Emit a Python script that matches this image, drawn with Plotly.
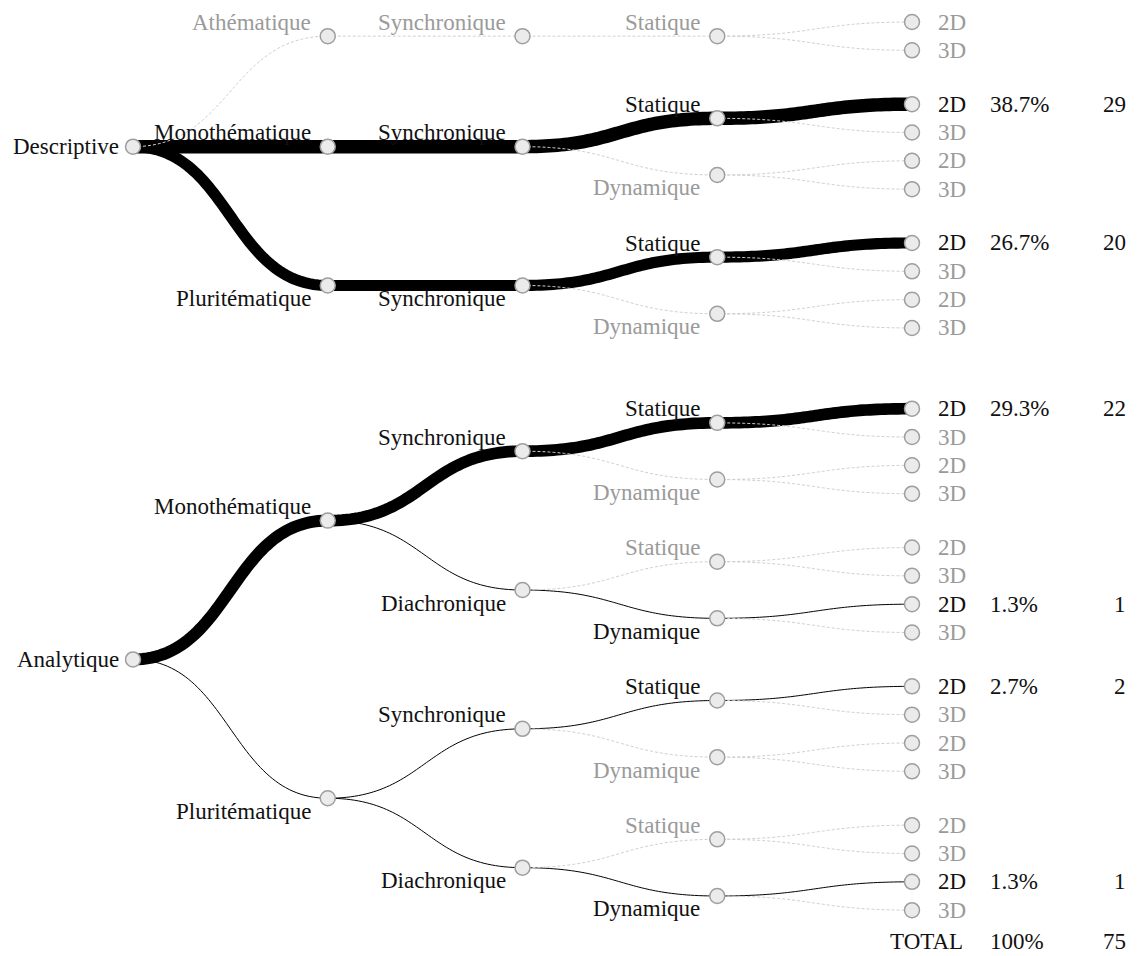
import numpy as np
import plotly.graph_objects as go

# one entry per leaf of the tree (root > theme > time > mode > dimension)
roots = ["Descriptive"] * 10 + ["Analytique"] * 16
themes = (["Athématique"] * 2 + ["Monothématique"] * 4 + ["Pluritématique"] * 4
          + ["Monothématique"] * 8 + ["Pluritématique"] * 8)
times = ["Synchronique"] * 14 + ["Diachronique"] * 4 + ["Synchronique"] * 4 + ["Diachronique"] * 4
modes = ["Statique"] * 2 + ["Statique", "Statique", "Dynamique", "Dynamique"] * 6
dims = ["2D", "3D"] * 13
counts = [0, 0,
          29, 0, 0, 0,
          20, 0, 0, 0,
          22, 0, 0, 0,
          0, 0, 1, 0,
          2, 0, 0, 0,
          0, 0, 1, 0]

total = sum(counts)

# layout settings (page pixels)
PAGE_OFFSET = 8          # default body margin of the html page
X0, DX = 133, 194.75
STEP = 28.33
FIRST_LEAF = 22
GROUP_GAP = 1.9
ROOT_GAP = 2.85
FONT = "Liberation Serif, serif"
FS = 23
BLACK = "#111111"
GREY = "#9a9a9a"

# build the tree
paths = [tuple(p) for p in zip(roots, themes, times, modes, dims)]
nodes = {}
for path, c in zip(paths, counts):
    for d in range(1, len(path) + 1):
        key = path[:d]
        if key not in nodes:
            nodes[key] = {"name": key[-1], "depth": d - 1, "count": 0, "children": []}
            if d > 1:
                nodes[key[:-1]]["children"].append(key)
        nodes[key]["count"] += c

# leaf positions
y_pos = {}
y = FIRST_LEAF
for i, path in enumerate(paths):
    if i > 0:
        prev = paths[i - 1]
        d = next(k for k in range(len(path)) if path[k] != prev[k])
        if d == 0:
            y += ROOT_GAP * STEP
        elif d <= 2:
            y += GROUP_GAP * STEP
        else:
            y += STEP
    y_pos[path] = y


def place(key):
    n = nodes[key]
    if not n["children"]:
        return y_pos[key]
    ys = [place(ch) for ch in n["children"]]
    y_pos[key] = float(np.median(ys))
    return y_pos[key]


for key in nodes:
    if len(key) == 1:
        place(key)

# label side (above / below) for internal nodes
side = {}
for key in nodes:
    if len(key) == 1:
        side[key] = "above"
for depth in range(2, 5):
    for key in nodes:
        if len(key) != depth:
            continue
        sibs = nodes[key[:-1]]["children"]
        if len(sibs) == 1:
            side[key] = side[key[:-1]]
        elif key == sibs[-1]:
            side[key] = "below"
        else:
            side[key] = "above"


def link_width(c):
    return 2.5 * np.sqrt(c) if c > 3 else 1.0


def bezier(x0, y0, x1, y1, n=60):
    t = np.linspace(0, 1, n)
    xm = (x0 + x1) / 2
    bx = (1 - t) ** 3 * x0 + 3 * (1 - t) ** 2 * t * xm + 3 * (1 - t) * t ** 2 * xm + t ** 3 * x1
    by = (1 - t) ** 3 * y0 + 3 * (1 - t) ** 2 * t * y0 + 3 * (1 - t) * t ** 2 * y1 + t ** 3 * y1
    return bx, by


fig = go.Figure()

# links with data (black), then empty ones (dashed grey)
dash_x, dash_y = [], []
for key, n in nodes.items():
    for ch in n["children"]:
        bx, by = bezier(n["depth"], y_pos[key], nodes[ch]["depth"], y_pos[ch])
        c = nodes[ch]["count"]
        if c > 0:
            fig.add_trace(go.Scatter(x=bx, y=by, mode="lines", hoverinfo="skip",
                                     line=dict(color="black", width=link_width(c), simplify=False)))
        else:
            dash_x += list(bx) + [None]
            dash_y += list(by) + [None]

fig.add_trace(go.Scatter(x=dash_x, y=dash_y, mode="lines", hoverinfo="skip",
                         line=dict(color="#cfcfcf", width=1, dash="3px,2px", simplify=False)))

keys = list(nodes.keys())
fig.add_trace(go.Scatter(
    x=[nodes[k]["depth"] for k in keys],
    y=[y_pos[k] for k in keys],
    mode="markers",
    text=["/".join(k) for k in keys],
    hoverinfo="text",
    marker=dict(size=15, color="#ebebeb", line=dict(color="#9e9e9e", width=1.5)),
))

# labels
for key, n in nodes.items():
    col = BLACK if n["count"] > 0 else GREY
    font = dict(family=FONT, size=FS, color=col)
    if n["depth"] == 0:
        fig.add_annotation(x=0, y=y_pos[key], text=n["name"], showarrow=False,
                           xanchor="right", yanchor="middle", xshift=-12, font=font)
    elif n["depth"] < 4:
        fig.add_annotation(x=n["depth"], y=y_pos[key], text=n["name"], showarrow=False,
                           xanchor="right", yanchor="middle", xshift=-15,
                           yshift=14 if side[key] == "above" else -13, font=font)
    else:
        fig.add_annotation(x=4, y=y_pos[key], text=n["name"], showarrow=False,
                           xanchor="left", yanchor="middle", xshift=24, font=font)
        if n["count"] > 0:
            fig.add_annotation(x=4, y=y_pos[key], text=f"{n['count'] / total * 100:.1f}%",
                               showarrow=False, xanchor="left", yanchor="middle",
                               xshift=76, font=font)
            fig.add_annotation(x=4, y=y_pos[key], text=str(n["count"]),
                               showarrow=False, xanchor="right", yanchor="middle",
                               xshift=216, font=font)

y_total = max(y_pos.values()) + 31
tfont = dict(family=FONT, size=FS, color=BLACK)
fig.add_annotation(x=4, y=y_total, text="TOTAL", showarrow=False, xanchor="right",
                   yanchor="middle", xshift=53, font=tfont)
fig.add_annotation(x=4, y=y_total, text="100%", showarrow=False, xanchor="left",
                   yanchor="middle", xshift=76, font=tfont)
fig.add_annotation(x=4, y=y_total, text=str(total), showarrow=False, xanchor="right",
                   yanchor="middle", xshift=216, font=tfont)

W, H = 1144, 956
fig.update_layout(
    width=W, height=H,
    margin=dict(l=0, r=0, t=0, b=0),
    paper_bgcolor="white", plot_bgcolor="white",
    showlegend=False,
    font=dict(family=FONT),
    xaxis=dict(range=[(PAGE_OFFSET - X0) / DX, (W + PAGE_OFFSET - X0) / DX],
               visible=False, fixedrange=True),
    yaxis=dict(range=[H + PAGE_OFFSET, PAGE_OFFSET], visible=False, fixedrange=True),
)

fig.write_html("out.html")
